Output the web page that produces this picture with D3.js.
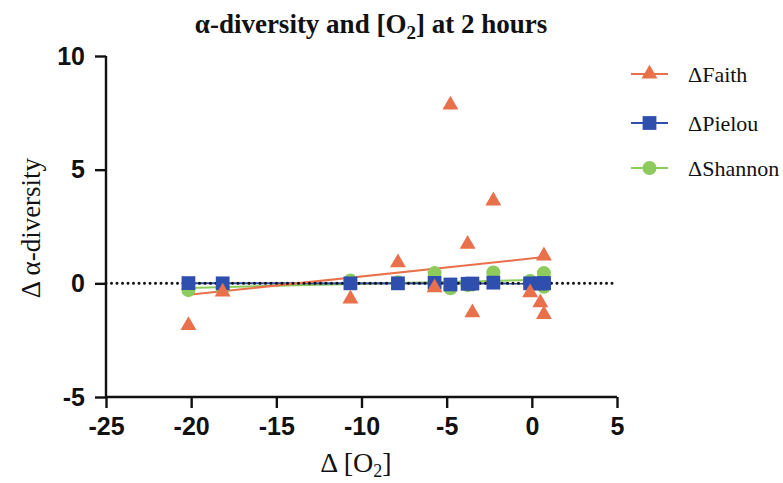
<!DOCTYPE html>
<html>
<head>
<meta charset="utf-8">
<script src="https://cdn.jsdelivr.net/npm/d3@7"></script>
<style>
  html, body { margin: 0; padding: 0; background: #fff; }
  svg { display: block; }
</style>
</head>
<body>
<svg id="chart" width="783" height="483"></svg>
<script>
// ---- data ----
const o2 = [-20.16, -18.15, -10.65, -7.86, -5.71, -4.78, -3.77, -3.49, -2.26, -0.10, 0.50, 0.71, 0.71];
const faith = [-1.85, -0.38, -0.68, 0.91, -0.19, 7.85, 1.72, -1.29, 3.63, -0.41, -0.85, 1.21, -1.37];
const pielou = [0.01, 0.00, 0.00, 0.00, 0.02, -0.05, -0.02, -0.01, 0.03, 0.00, -0.01, 0.01, 0.00];
const shannon = [-0.30, -0.20, 0.12, 0.05, 0.45, -0.22, -0.08, -0.05, 0.48, 0.10, 0.00, 0.45, -0.15];
const seriesNames = ["\u0394Faith", "\u0394Pielou", "\u0394Shannon"];
const seriesColors = ["#E8714B", "#2F4FAE", "#8DCB5C"];
const xTicks = [-25, -20, -15, -10, -5, 0, 5];
const yTicks = [-5, 0, 5, 10];

const svg = d3.select("#chart");
const x = d3.scaleLinear().domain([-25, 5]).range([106, 617]);
const y = d3.scaleLinear().domain([-5, 10]).range([397, 56]);

const series = [
  { name: seriesNames[0], color: seriesColors[0], values: faith, symbol: d3.symbolTriangle, size: 110 },
  { name: seriesNames[1], color: seriesColors[1], values: pielou, symbol: d3.symbolSquare, size: 190 },
  { name: seriesNames[2], color: seriesColors[2], values: shannon, symbol: d3.symbolCircle, size: 155 }
];

function regression(xs, ys) {
  const n = xs.length;
  const mx = d3.mean(xs), my = d3.mean(ys);
  let sxy = 0, sxx = 0;
  for (let i = 0; i < n; i++) { sxy += (xs[i] - mx) * (ys[i] - my); sxx += (xs[i] - mx) ** 2; }
  const b = sxy / sxx, a = my - b * mx;
  const x0 = d3.min(xs), x1 = d3.max(xs);
  return [[x0, a + b * x0], [x1, a + b * x1]];
}

// regression lines
const lineGen = d3.line().x(d => x(d[0])).y(d => y(d[1]));
[series[2], series[1], series[0]].forEach(s => {
  svg.append("path")
    .attr("d", lineGen(regression(o2, s.values)))
    .attr("fill", "none")
    .attr("stroke", s.color)
    .attr("stroke-width", 2);
});

// dotted zero line
svg.append("line")
  .attr("x1", x(-25)).attr("x2", x(5))
  .attr("y1", y(0)).attr("y2", y(0))
  .attr("stroke", "#111")
  .attr("stroke-width", 3)
  .attr("stroke-linecap", "round")
  .attr("stroke-dasharray", "0,5.5");

// points: Shannon, Pielou, Faith on top
[series[2], series[1], series[0]].forEach(s => {
  const sym = d3.symbol().type(s.symbol).size(s.size);
  svg.append("g").selectAll("path")
    .data(o2.map((v, i) => [v, s.values[i]]))
    .join("path")
    .attr("d", sym)
    .attr("transform", d => `translate(${x(d[0])},${y(d[1])})`)
    .attr("fill", s.color);
});

// axes
const fmt = d => String(d); // plain hyphen-minus, as in the reference
const xAxis = svg.append("g")
  .attr("transform", `translate(0,${y(-5)})`)
  .call(d3.axisBottom(x).tickValues(xTicks).tickFormat(fmt).tickSize(11).tickSizeOuter(0).tickPadding(9));
const yAxis = svg.append("g")
  .attr("transform", `translate(${x(-25)},0)`)
  .call(d3.axisLeft(y).tickValues(yTicks).tickFormat(fmt).tickSize(11).tickSizeOuter(0).tickPadding(10));
[xAxis, yAxis].forEach(g => {
  g.selectAll("path, line").attr("stroke", "#111").attr("stroke-width", 2.4);
  g.selectAll("text")
    .attr("fill", "#111")
    .style("font-family", "'Liberation Sans', Arial, sans-serif")
    .style("font-weight", "bold")
    .style("font-size", "25px");
});
xAxis.select(".domain").attr("d", `M${x(-25)},0H${x(5)}`);
yAxis.select(".domain").attr("d", `M0,${y(-5)}V${y(10)}`);

// title
const title = svg.append("text")
  .attr("x", 371).attr("y", 33)
  .attr("text-anchor", "middle")
  .style("font-family", "'Liberation Serif', 'Times New Roman', serif")
  .style("font-weight", "bold")
  .style("font-size", "27px")
  .attr("fill", "#111");
title.append("tspan").text("\u03b1-diversity and [O");
title.append("tspan").text("2").attr("dy", 6).style("font-size", "19px");
title.append("tspan").text("] at 2 hours").attr("dy", -6);

// x axis label
const xl = svg.append("text")
  .attr("x", 356).attr("y", 472)
  .attr("text-anchor", "middle")
  .style("font-family", "'Liberation Serif', 'Times New Roman', serif")
  .style("font-size", "28px")
  .attr("fill", "#111");
xl.append("tspan").text("\u0394 [O");
xl.append("tspan").text("2").attr("dy", 5).style("font-size", "18px");
xl.append("tspan").text("]").attr("dy", -5);

// y axis label
svg.append("text")
  .attr("transform", "translate(40,228) rotate(-90)")
  .attr("text-anchor", "middle")
  .style("font-family", "'Liberation Serif', 'Times New Roman', serif")
  .style("font-size", "27px")
  .attr("fill", "#111")
  .text("\u0394 \u03b1-diversity");

// legend
const legendY = [74, 123, 168];
series.forEach((s, i) => {
  const g = svg.append("g").attr("transform", `translate(0,${legendY[i]})`);
  g.append("line").attr("x1", 631).attr("x2", 668).attr("y1", 0).attr("y2", 0)
    .attr("stroke", s.color).attr("stroke-width", 2);
  g.append("path").attr("d", d3.symbol().type(s.symbol).size(s.size)())
    .attr("transform", "translate(649.5,0)").attr("fill", s.color);
  g.append("text").attr("x", 688).attr("y", 8)
    .style("font-family", "'Liberation Serif', 'Times New Roman', serif")
    .style("font-size", "22px")
    .attr("fill", "#111")
    .text(s.name);
});
</script>
</body>
</html>
